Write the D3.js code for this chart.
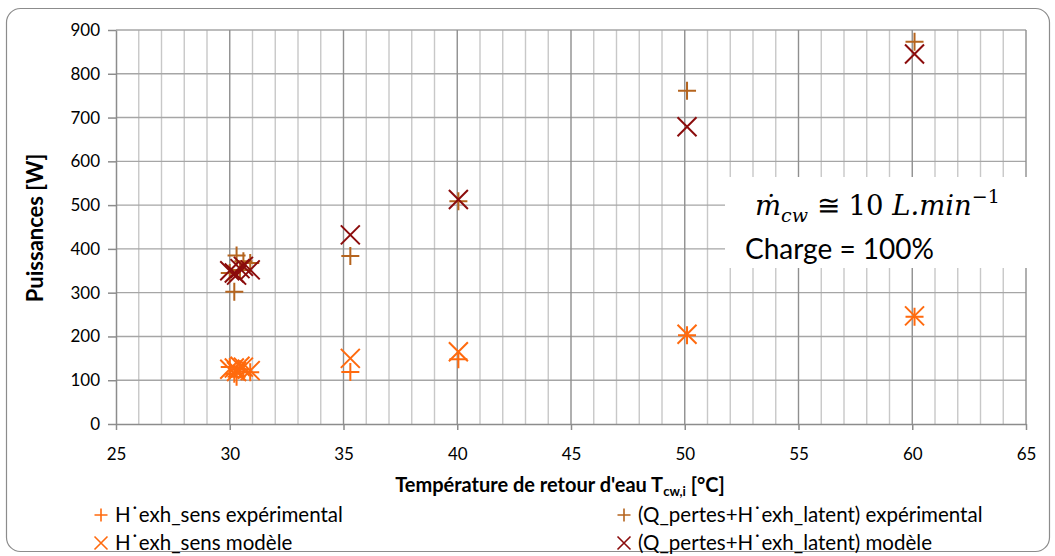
<!DOCTYPE html>
<html><head><meta charset="utf-8">
<script src="https://cdn.jsdelivr.net/npm/d3@7"></script>
<style>body{margin:0;background:#fff}svg{display:block}</style>
</head><body><svg id="c" width="1055" height="556"></svg>
<script>
// ---- data ----
const tempX = [30.0, 30.2, 30.3, 30.45, 30.6, 30.9, 35.3, 40.05, 50.1, 60.1];
const sensExp   = [130, 115, 108, 125, 120, 118, 119, 148, 203, 245];
const sensMod   = [125, 128, 120, 132, 130, 122, 150, 165, 205, 247];
const latExp    = [345, 302, 385, 352, 372, 368, 384, 509, 761, 873];
const latMod    = [350, 345, 340, 355, 360, 352, 432, 513, 679, 845];
const xTicks = [25, 30, 35, 40, 45, 50, 55, 60, 65];
const yTicks = [0, 100, 200, 300, 400, 500, 600, 700, 800, 900];
const seriesNames = ["H˙exh_sens expérimental", "(Q_pertes+H˙exh_latent) expérimental",
                     "H˙exh_sens modèle", "(Q_pertes+H˙exh_latent) modèle"];

const svg = d3.select("#c");
const font = "Lato, 'Open Sans', sans-serif";
const L = 116, R = 1026, T = 30, B = 424;
const x = d3.scaleLinear().domain([25, 65]).range([L, R]);
const y = d3.scaleLinear().domain([0, 900]).range([B, T]);

// outer border
svg.append("rect").attr("x", 6.5).attr("y", 8.5).attr("width", 1043).attr("height", 543)
  .attr("rx", 14).attr("fill", "#fff").attr("stroke", "#8c8c8c").attr("stroke-width", 1.2);

// minor vertical grid
const g = svg.append("g");
g.selectAll(".vmin").data(d3.range(26, 65).filter(v => v % 5 !== 0)).join("line")
  .attr("x1", d => x(d)).attr("x2", d => x(d)).attr("y1", T).attr("y2", B)
  .attr("stroke", "#c8c8c8").attr("stroke-width", 1.4);
// horizontal grid
g.selectAll(".h").data(yTicks.slice(1)).join("line")
  .attr("x1", L).attr("x2", R).attr("y1", d => y(d)).attr("y2", d => y(d))
  .attr("stroke", "#a6a6a6").attr("stroke-width", 1.4);
// major vertical grid
g.selectAll(".vmaj").data(xTicks.slice(1)).join("line")
  .attr("x1", d => x(d)).attr("x2", d => x(d)).attr("y1", T).attr("y2", B)
  .attr("stroke", "#8f8f8f").attr("stroke-width", 1.4);

// axes
const yAxis = svg.append("g").attr("transform", `translate(${L},0)`)
  .call(d3.axisLeft(y).tickValues(yTicks).tickSize(8).tickPadding(8).tickSizeOuter(0));
const xAxis = svg.append("g").attr("transform", `translate(0,${B})`)
  .call(d3.axisBottom(x).tickValues(xTicks).tickSize(6).tickPadding(18).tickSizeOuter(0));
[yAxis, xAxis].forEach(a => {
  a.selectAll("path,line").attr("stroke", "#8c8c8c").attr("stroke-width", 1.5);
  a.selectAll("text").attr("font-family", font).attr("font-size", 17).attr("fill", "#000");
});

// annotation box
svg.append("rect").attr("x", 725).attr("y", 177).attr("width", 302).attr("height", 91).attr("fill", "#fff");
const ann = svg.append("text").attr("x", 755).attr("y", 215).attr("font-family", "'DejaVu Serif', 'Liberation Serif', serif")
  .attr("font-size", 27.5).attr("fill", "#000");
ann.append("tspan").attr("font-style", "italic").text("ṁ");
ann.append("tspan").attr("font-style", "italic").attr("font-size", 19).attr("dy", 7).text("cw");
ann.append("tspan").attr("dy", -7).text(" ≅ 10 ");
ann.append("tspan").attr("font-style", "italic").text("L.min");
ann.append("tspan").attr("font-size", 19).attr("dy", -12).text("−1");
svg.append("text").attr("x", 745).attr("y", 259).attr("font-family", font).attr("font-size", 28)
  .attr("fill", "#000").text("Charge = 100%");

// markers
function plus(sel, s, color, w) {
  sel.append("path").attr("d", `M${-s},0H${s}M0,${-s}V${s}`).attr("stroke", color).attr("stroke-width", w).attr("fill", "none");
}
function cross(sel, s, color, w) {
  sel.append("path").attr("d", `M${-s},${-s}L${s},${s}M${-s},${s}L${s},${-s}`).attr("stroke", color).attr("stroke-width", w).attr("fill", "none");
}
const cOr = "#ff6a0e", cBr = "#b5641e", cDr = "#8b0c0c";
const series = [
  {vals: sensExp, color: cOr, type: "plus"},
  {vals: latExp, color: cBr, type: "plus"},
  {vals: sensMod, color: cOr, type: "cross"},
  {vals: latMod, color: cDr, type: "cross"}
];
const order = [0, 2, 1, 3];
order.forEach(i => {
  const s = series[i];
  svg.append("g").selectAll("g").data(s.vals).join("g")
    .attr("transform", (d, k) => `translate(${x(tempX[k])},${y(d)})`)
    .each(function() {
      const sel = d3.select(this);
      if (s.type === "plus") plus(sel, 9, s.color, 2); else cross(sel, 9.5, s.color, 2);
    });
});

// axis titles
svg.append("text").attr("transform", "translate(43,228) rotate(-90)").attr("text-anchor", "middle")
  .attr("font-family", font).attr("font-weight", "bold").attr("font-size", 22).text("Puissances [W]");
const xt = svg.append("text").attr("x", 560).attr("y", 492).attr("text-anchor", "middle")
  .attr("font-family", font).attr("font-weight", "bold").attr("font-size", 20);
xt.append("tspan").text("Température de retour d'eau T");
xt.append("tspan").attr("font-size", 13).attr("dy", 4).text("cw,i");
xt.append("tspan").attr("dy", -4).text(" [°C]");

// legend
const legPos = [[115, 522], [638, 522], [115, 550], [638, 550]];
series.forEach((s, i) => {
  const [lx, ly] = legPos[i];
  const gg = svg.append("g").attr("transform", `translate(${lx - 14},${ly - 7})`);
  if (s.type === "plus") plus(gg, 6.5, s.color, 1.6); else cross(gg, 6.5, s.color, 1.6);
  svg.append("text").attr("x", lx).attr("y", ly).attr("font-family", font).attr("font-size", 20.5)
    .attr("fill", "#000").text(seriesNames[i]);
});
</script></body></html>
